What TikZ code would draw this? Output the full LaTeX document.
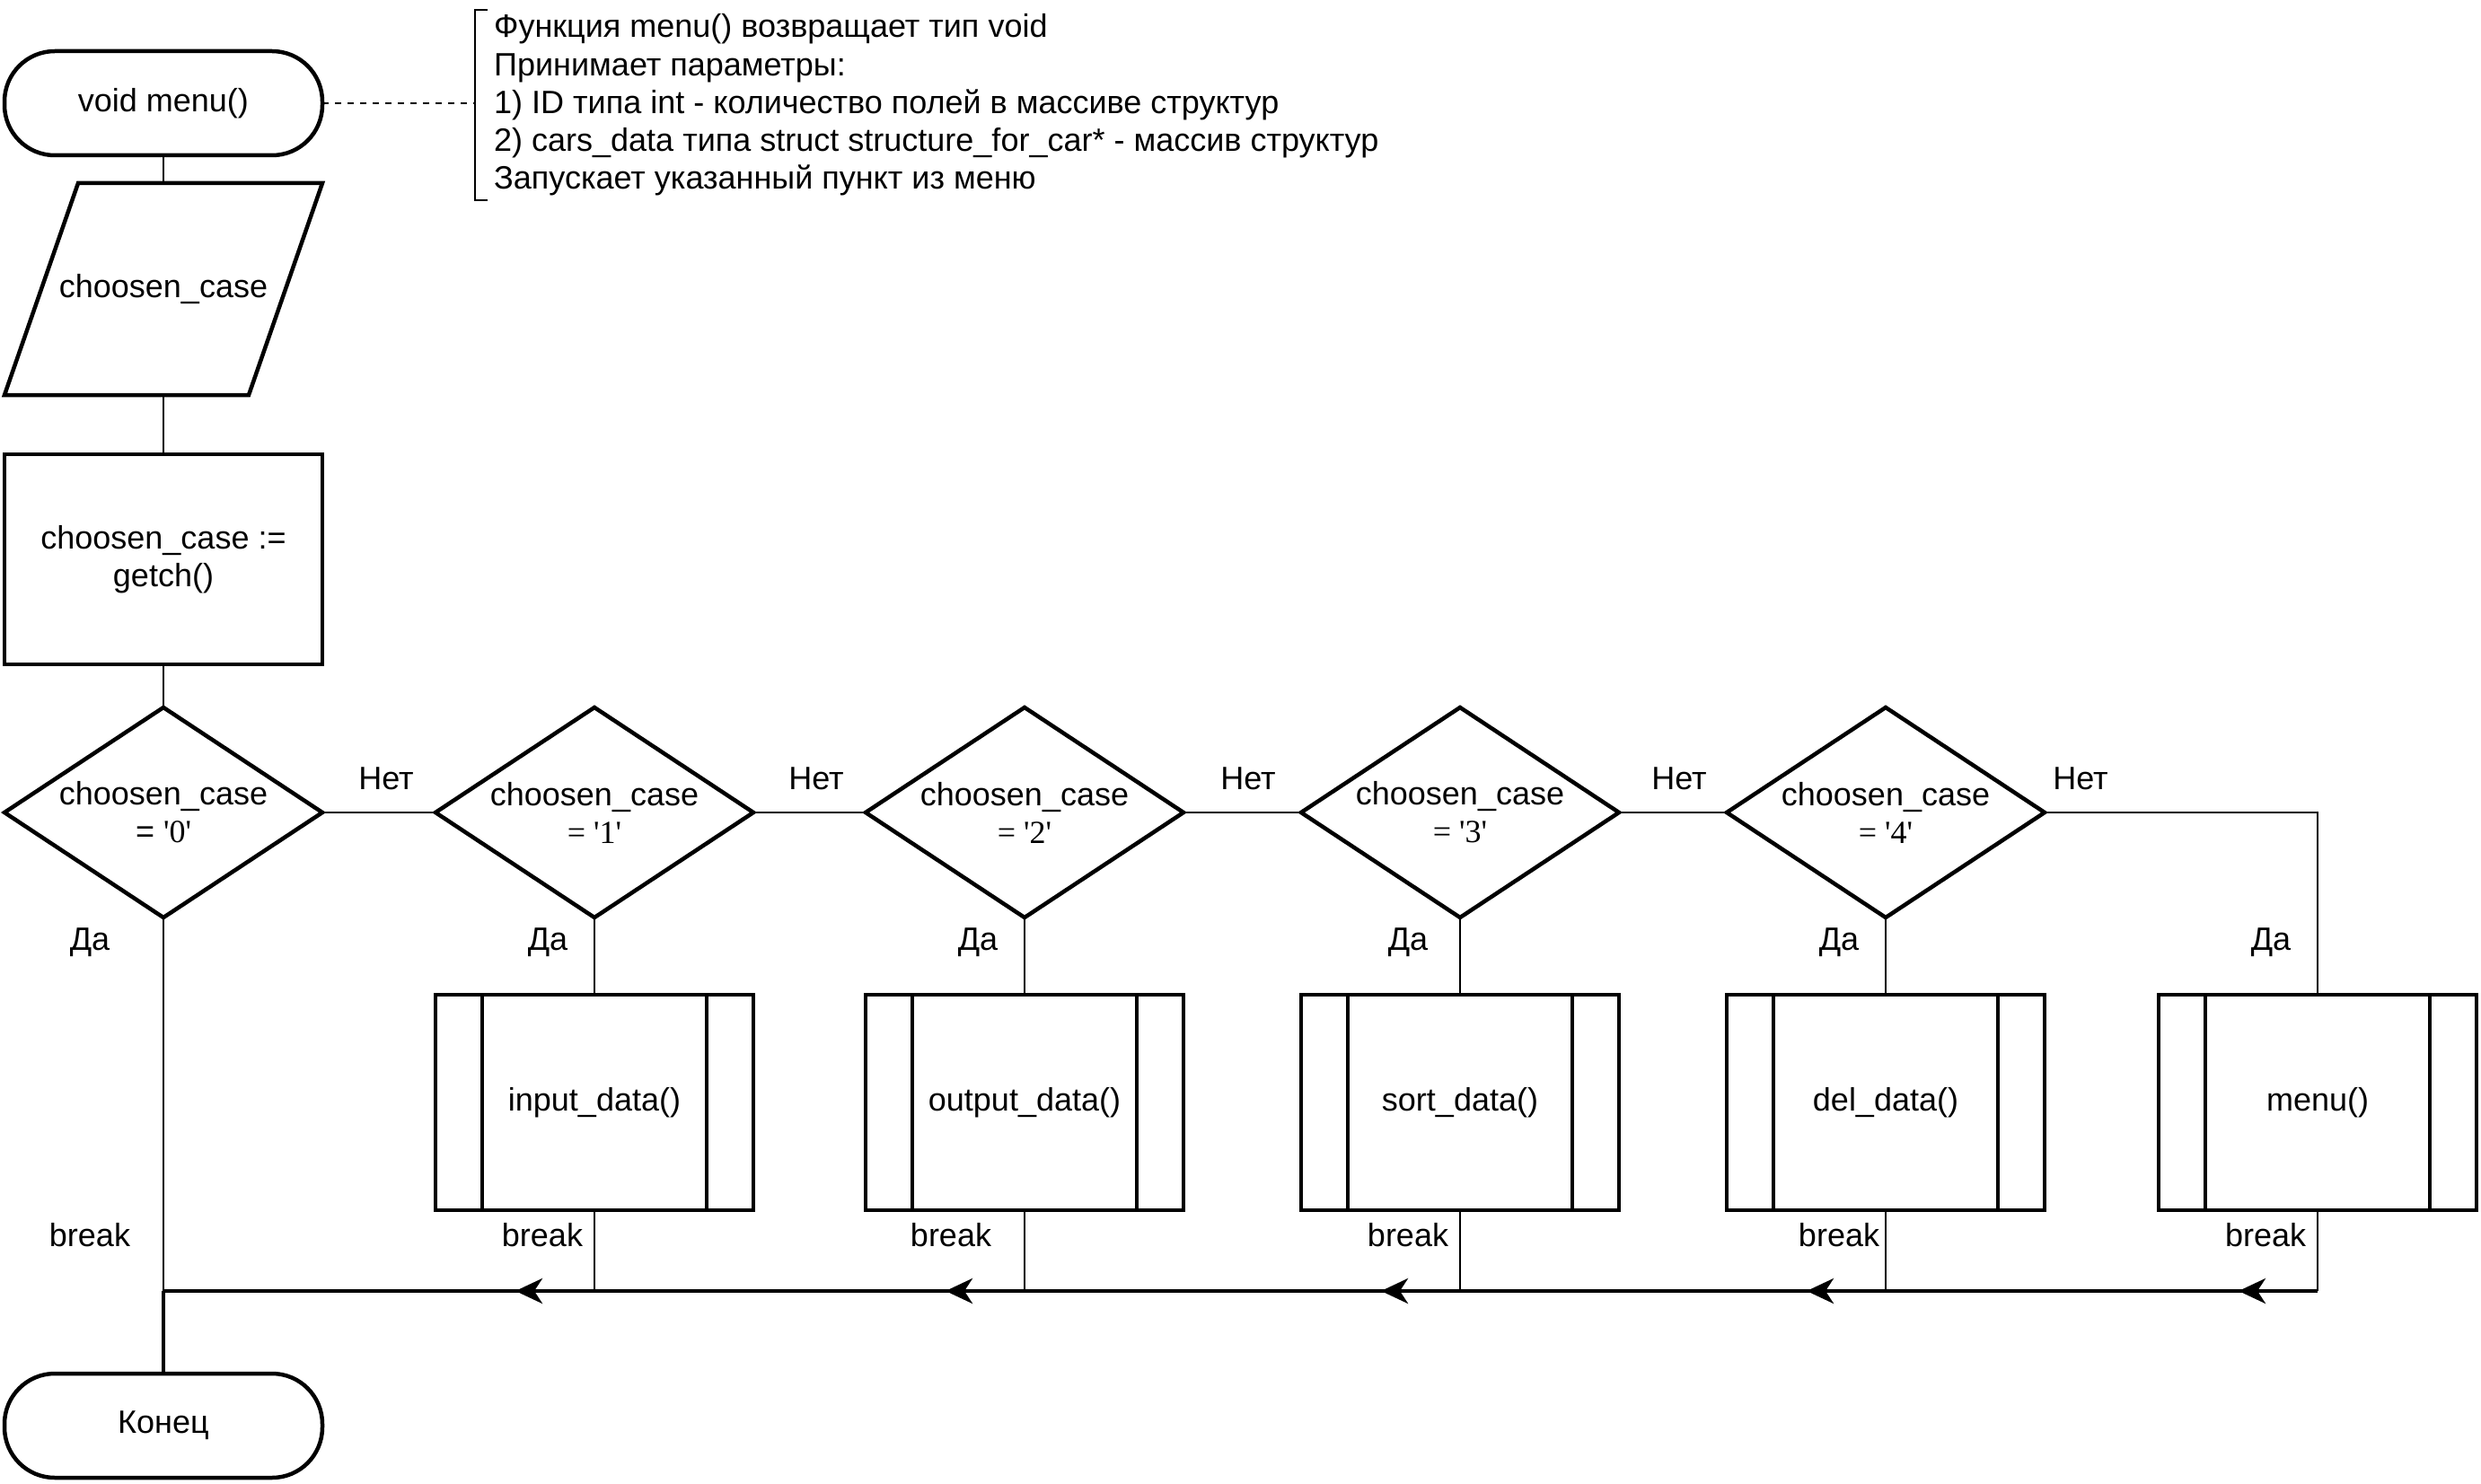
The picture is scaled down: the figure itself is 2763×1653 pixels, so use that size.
\documentclass[tikz,border=0pt]{standalone}
\usepackage{fontspec}
\setmainfont{Liberation Sans}
\newfontfamily\quotefont{Liberation Serif}
\usetikzlibrary{shapes.geometric, arrows.meta, positioning, calc}

\begin{document}
\begin{tikzpicture}[
  x=1pt, y=-1pt,
  font=\fontsize{36}{42}\selectfont,
  term/.style = {draw, rectangle, rounded corners=56pt, line width=4.5pt, minimum width=354pt, minimum height=116pt, outer sep=0pt},
  io/.style = {rectangle, minimum width=354pt, minimum height=236pt, outer sep=0pt},
  outline/.style = {draw, line width=4.5pt, line join=miter},
  process/.style = {draw, rectangle, line width=4.5pt, minimum width=354pt, minimum height=234pt, align=center, outer sep=0pt},
  decision/.style = {draw, diamond, aspect=1.5, inner sep=0pt, line width=4.5pt, minimum width=354pt, minimum height=234pt, align=center, outer sep=0pt},
  sub/.style = {draw, rectangle, line width=4.5pt, minimum width=354pt, minimum height=240pt, outer sep=0pt,
    path picture={\draw[line width=4.5pt]
      ([xshift=52pt]path picture bounding box.north west) -- ([xshift=52pt]path picture bounding box.south west)
      ([xshift=-52pt]path picture bounding box.north east) -- ([xshift=-52pt]path picture bounding box.south east);}},
  note/.style = {align=left, inner xsep=21pt, inner ysep=4pt, font=\fontsize{36}{42.3}\selectfont},
  line/.style = {draw, line width=2pt},
  backline/.style = {draw, line width=3.5pt},
  arrowline/.style = {draw, line width=4pt, -{Stealth[length=30pt, width=28pt, inset=9pt]}},
  dashline/.style = {draw, line width=2pt, dash pattern=on 7pt off 7pt}
  ]
 \useasboundingbox (0,0) rectangle (2763,1653);
 % Main column
 \node[term] (start) at (182,115) {void menu()};
 \node[io] (inp) at (182,322) {choosen\_case};
 \draw[outline] ([xshift=82pt]inp.north west) -- (inp.north east) -- ([xshift=-82pt]inp.south east) -- (inp.south west) -- cycle;
 \node[process] (getch) at (182,623) {choosen\_case :=\\getch()};
 % Comment
 \node[note, anchor=west] (note) at (529,117)
  {Функция menu() возвращает тип void\\
  Принимает параметры:\\
  1) ID типа int - количество полей в массиве структур\\
  2) cars\_data типа struct structure\_for\_car* - массив структур\\
  Запускает указанный пункт из меню};
 % Decisions
 \node[decision] (c0) at (182,905) {choosen\_case\\= {\quotefont\textquotesingle0\textquotesingle}};
 \node[decision, right=126pt of c0] (c1) {choosen\_case\\{\quotefont= \textquotesingle1\textquotesingle}};
 \node[decision, right=125pt of c1] (c2) {choosen\_case\\{\quotefont= \textquotesingle2\textquotesingle}};
 \node[decision, right=131pt of c2] (c3) {choosen\_case\\{\quotefont= \textquotesingle3\textquotesingle}};
 \node[decision, right=120pt of c3] (c4) {choosen\_case\\{\quotefont= \textquotesingle4\textquotesingle}};
 % Subroutines
 \node[sub, below=86pt of c1] (d1) {input\_data()};
 \node[sub, below=86pt of c2] (d2) {output\_data()};
 \node[sub, below=86pt of c3] (d3) {sort\_data()};
 \node[sub, below=86pt of c4] (d4) {del\_data()};
 \node[sub] (d5) at (2581,1228) {menu()};
 % End
 \node[term] (finish) at (182,1588) {Конец};
 \coordinate (j0) at (182,1438);
 % Labels
 \node (no0) at (430,867) {Нет};
 \node (no1) at (909,867) {Нет};
 \node (no2) at (1390,867) {Нет};
 \node (no3) at (1870,867) {Нет};
 \node (no4) at (2317,867) {Нет};
 \node (yes0) at (100,1050) {Да};
 \node (yes1) at (610,1050) {Да};
 \node (yes2) at (1089,1050) {Да};
 \node (yes3) at (1568,1050) {Да};
 \node (yes4) at (2048,1050) {Да};
 \node (yes5) at (2529,1050) {Да};
 \node (brk0) at (100,1376) {break};
 \node (brk1) at (604,1376) {break};
 \node (brk2) at (1059,1376) {break};
 \node (brk3) at (1568,1376) {break};
 \node (brk4) at (2048,1376) {break};
 \node (brk5) at (2523,1376) {break};
 % Arrows
 \draw[line] (start) -- (inp.north);
 \draw[line] (inp.south) -- (getch);
 \draw[line] (getch) -- (c0);
 \draw[dashline] (start) -- (start -| note.west);
 \draw[line] ([xshift=14pt]note.north west) -- (note.north west) -- (note.south west) -- ([xshift=14pt]note.south west);
 \draw[line] (c0) -- (c1);
 \draw[line] (c1) -- (c2);
 \draw[line] (c2) -- (c3);
 \draw[line] (c3) -- (c4);
 \draw[line] (c4.east) -| (d5.north);
 \draw[line] (c1) -- (d1);
 \draw[line] (c2) -- (d2);
 \draw[line] (c3) -- (d3);
 \draw[line] (c4) -- (d4);
 \draw[line] (c0) -- (j0);
 \draw[backline] (j0) -- (finish);
 \draw[backline] (d5.south |- j0) -- (j0);
 \draw[line] (d1.south) -- (d1.south |- j0);
 \draw[line] (d2.south) -- (d2.south |- j0);
 \draw[line] (d3.south) -- (d3.south |- j0);
 \draw[line] (d4.south) -- (d4.south |- j0);
 \draw[line] (d5.south) -- (d5.south |- j0);
 \draw[arrowline] (d1.south |- j0) -- ++(-88,0);
 \draw[arrowline] (d2.south |- j0) -- ++(-88,0);
 \draw[arrowline] (d3.south |- j0) -- ++(-88,0);
 \draw[arrowline] (d4.south |- j0) -- ++(-88,0);
 \draw[arrowline] (d5.south |- j0) -- ++(-88,0);
\end{tikzpicture}
\end{document}
